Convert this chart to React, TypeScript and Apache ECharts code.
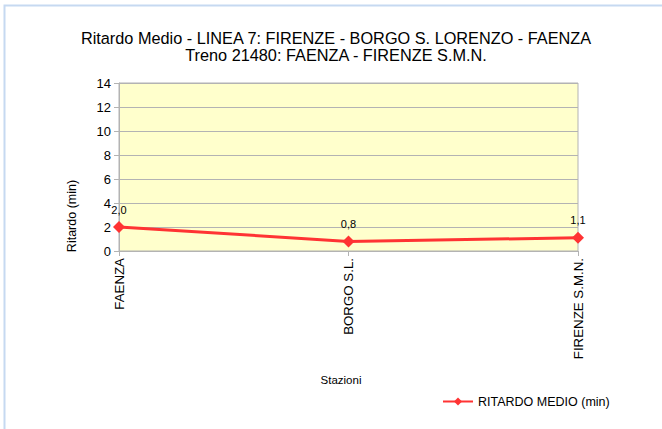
import React, { useEffect, useRef } from "react";
import * as echarts from "echarts";

const stations = ["FAENZA", "BORGO S.L.", "FIRENZE S.M.N."];
const delays = [2.0, 0.8, 1.1];
const seriesName = "RITARDO MEDIO (min)";
const titleLines = [
  "Ritardo Medio - LINEA 7: FIRENZE - BORGO S. LORENZO - FAENZA",
  "Treno 21480: FAENZA - FIRENZE S.M.N.",
];

export default function App() {
  const ref = useRef<HTMLDivElement>(null);
  useEffect(() => {
    if (!ref.current) return;
    const chart = echarts.init(ref.current, null, { renderer: "svg" });
    const font = "'Liberation Sans', Arial, sans-serif";
    chart.setOption({
      animation: false,
      backgroundColor: "#ffffff",
      textStyle: { fontFamily: font },
      title: {
        text: titleLines.join("\n"),
        left: 331,
        textAlign: "center",
        top: 24,
        textStyle: { fontSize: 16.3, fontWeight: "normal", color: "#000", lineHeight: 17, fontFamily: font },
      },
      graphic: [
        {
          type: "rect",
          shape: { x: 4.5, y: 5.5, width: 700, height: 500 },
          style: { fill: "none", stroke: "#c6d9f1", lineWidth: 2 },
          silent: true,
        },
        {
          type: "text",
          x: 72,
          y: 216,
          rotation: Math.PI / 2,
          style: { text: "Ritardo (min)", fontSize: 12.5, fill: "#000", align: "center", verticalAlign: "middle", fontFamily: font },
        },
        {
          type: "text",
          x: 341,
          y: 380,
          style: { text: "Stazioni", fontSize: 11.5, fill: "#000", align: "center", verticalAlign: "middle", fontFamily: font },
        },
      ],
      legend: {
        data: [seriesName],
        left: 437,
        top: 390,
        itemWidth: 30,
        itemHeight: 10,
        itemGap: 5,
        textStyle: { fontSize: 12.5, color: "#000", fontFamily: font },
      },
      grid: {
        left: 119,
        right: 662 - 578,
        top: 83,
        bottom: 429 - 251,
        show: true,
        backgroundColor: "#ffffcc",
        borderColor: "#b3b3b3",
        borderWidth: 1,
      },
      xAxis: {
        type: "category",
        data: stations,
        boundaryGap: false,
        axisLine: { lineStyle: { color: "#b3b3b3" } },
        axisTick: { show: true, length: 5, lineStyle: { color: "#b3b3b3" } },
        axisLabel: { rotate: 90, fontSize: 13.3, color: "#000", margin: 7, fontFamily: font },
        splitLine: { show: false },
      },
      yAxis: {
        type: "value",
        min: 0,
        max: 14,
        interval: 2,
        axisLine: { show: true, lineStyle: { color: "#b3b3b3" } },
        axisTick: { show: true, length: 5, lineStyle: { color: "#b3b3b3" } },
        axisLabel: { fontSize: 13, color: "#000", margin: 8, fontFamily: font },
        splitLine: { show: true, lineStyle: { color: "#b3b3b3" } },
      },
      series: [
        {
          name: seriesName,
          type: "line",
          data: delays,
          symbol: "diamond",
          symbolSize: 12,
          itemStyle: { color: "#ff3333" },
          lineStyle: { color: "#ff3333", width: 3 },
          label: {
            show: true,
            position: "top",
            distance: 6,
            fontSize: 11,
            color: "#000",
            fontFamily: font,
            formatter: (p: any) => p.value.toFixed(1).replace(".", ","),
          },
        },
      ],
    });
    return () => chart.dispose();
  }, []);
  return <div ref={ref} style={{ width: 662, height: 429, position: "absolute", left: 0, top: 0 }} />;
}
